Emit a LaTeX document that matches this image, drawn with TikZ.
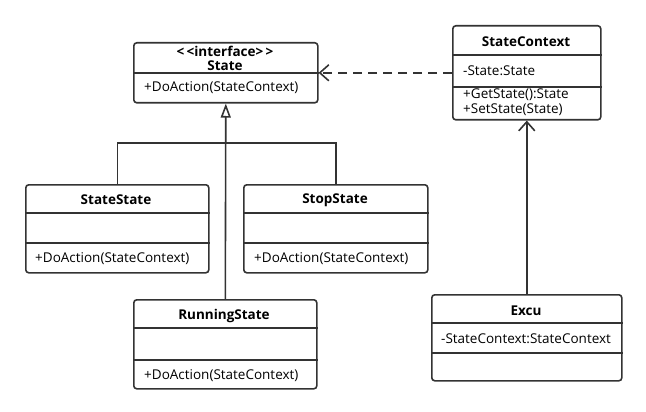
\documentclass[tikz,border=0pt]{standalone}
\usepackage{fontspec}
\setmainfont{Open Sans}
\usetikzlibrary{arrows.meta}

\begin{document}
\begin{tikzpicture}[
        x=1pt, y=-1pt,
        font=\fontsize{13.5}{15}\selectfont,
        cls/.style={rectangle, draw=black!80, line width=1.6pt, rounded corners=3pt, anchor=north west, inner sep=0pt},
        sep/.style={draw=black!80, line width=1.6pt},
        title/.style={font=\fontsize{13.5}{15}\selectfont\bfseries, inner sep=0pt},
        member/.style={anchor=west, inner sep=0pt},
        link/.style={draw=black!80, line width=1.6pt},
        inherit/.style={link, {Triangle[open, length=14pt, width=10pt]}-},
        assoc/.style={link, -{Straight Barb[length=9pt, width=16pt]}}
    ]
        \useasboundingbox (0,0) rectangle (646,412);

        % Class boxes
        \node[cls, minimum width=184pt, minimum height=60pt] (state) at (133,42) {};
        \node[cls, minimum width=148pt, minimum height=94pt] (ctx) at (452,25) {};
        \node[cls, minimum width=183pt, minimum height=88pt] (startst) at (25,184) {};
        \node[cls, minimum width=184pt, minimum height=88pt] (stopst) at (243,184) {};
        \node[cls, minimum width=183pt, minimum height=89pt] (runst) at (133,299) {};
        \node[cls, minimum width=190pt, minimum height=86pt] (excu) at (431,294) {};

        % Compartment lines
        \draw[sep] (state.west |- 0,73) -- (state.east |- 0,73);
        \draw[sep] (ctx.west |- 0,55) -- (ctx.east |- 0,55);
        \draw[sep] (ctx.west |- 0,87) -- (ctx.east |- 0,87);
        \draw[sep] (startst.west |- 0,213) -- (startst.east |- 0,213);
        \draw[sep] (startst.west |- 0,243) -- (startst.east |- 0,243);
        \draw[sep] (stopst.west |- 0,213) -- (stopst.east |- 0,213);
        \draw[sep] (stopst.west |- 0,243) -- (stopst.east |- 0,243);
        \draw[sep] (runst.west |- 0,328) -- (runst.east |- 0,328);
        \draw[sep] (runst.west |- 0,360) -- (runst.east |- 0,360);
        \draw[sep] (excu.west |- 0,323) -- (excu.east |- 0,323);
        \draw[sep] (excu.west |- 0,353) -- (excu.east |- 0,353);

        % Class texts
        \node[title] (stateStereo) at (225,51) {<\,<interface>\,>};
        \node[title] (stateName) at (225,66) {State};
        \node[member] (stateOp) at (144,88) {+DoAction(StateContext)};

        \node[title] (ctxName) at (526,42) {StateContext};
        \node[member] (ctxAttr) at (463,71) {-State:State};
        \node[member] (ctxGet) at (463,95) {+GetState():State};
        \node[member] (ctxSet) at (463,110) {+SetState(State)};

        \node[title] (startName) at (116,200) {StateState};
        \node[member] (startOp) at (35,259) {+DoAction(StateContext)};

        \node[title] (stopName) at (335,200) {StopState};
        \node[member] (stopOp) at (254,259) {+DoAction(StateContext)};

        \node[title] (runName) at (224,316) {RunningState};
        \node[member] (runOp) at (144,376) {+DoAction(StateContext)};

        \node[title] (excuName) at (526,311) {Excu};
        \node[member] (excuAttr) at (441,339) {-StateContext:StateContext};

        % Generalization
        \coordinate (fork) at (225,143);
        \draw[inherit] (state.south) -- (runst.north);
        \draw[link] (startst.north) |- (fork) -| (stopst.north);

        % Dependency and association
        \draw[assoc, dashed, dash pattern=on 9pt off 6pt] (ctx.west) -- (state.east);
        \draw[assoc] (excu.north) -- (ctx.south);

    \end{tikzpicture}
\end{document}
